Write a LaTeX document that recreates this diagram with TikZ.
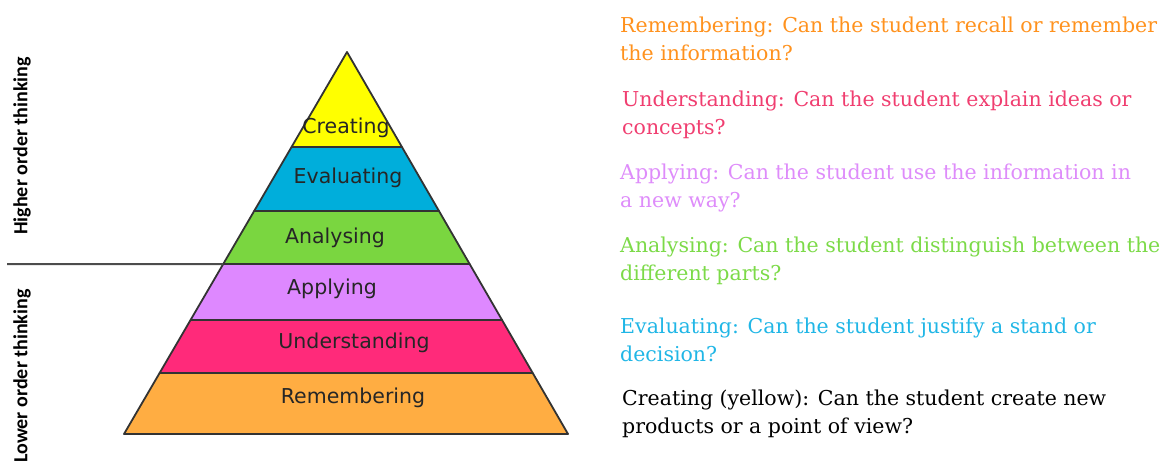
\documentclass[tikz,border=0pt]{standalone}
\usepackage{fontspec}
\usetikzlibrary{calc}
\setmainfont{DejaVu Serif}
\newfontfamily\levelfont{DejaVu Sans}
\newfontfamily\sidefont{Carlito}

\definecolor{remcol}{RGB}{255,173,66}
\definecolor{undcol}{RGB}{255,42,122}
\definecolor{appcol}{RGB}{222,136,255}
\definecolor{anacol}{RGB}{122,214,64}
\definecolor{evacol}{RGB}{0,174,219}
\definecolor{crecol}{RGB}{255,255,0}
\definecolor{remtxt}{RGB}{255,146,30}
\definecolor{undtxt}{RGB}{240,62,112}
\definecolor{apptxt}{RGB}{222,140,250}
\definecolor{anatxt}{RGB}{124,218,72}
\definecolor{evatxt}{RGB}{32,182,230}

\begin{document}
\begin{tikzpicture}[x=1pt,y=-1pt,
    band/.style={draw=black!80, line width=1.8pt, line join=round},
    level/.style={font=\levelfont\fontsize{20.5}{20.5}\selectfont, text=black!85, inner sep=0pt},
    side/.style={font=\sidefont\bfseries\fontsize{20}{20}\selectfont, rotate=90, inner sep=0pt},
    question/.style={anchor=west, align=left, inner sep=0pt, font=\fontsize{20.5}{28.5}\selectfont}]
    \useasboundingbox (0,0) rectangle (1176,464);

    % pyramid corners
    \coordinate (top) at (347,52);
    \coordinate (bl) at (124,434);
    \coordinate (br) at (568,434);

    % bands, bottom to top
    \foreach \ta/\tb/\col in {0.8403/1/remcol, 0.7016/0.8403/undcol, 0.555/0.7016/appcol,
                               0.4162/0.555/anacol, 0.2487/0.4162/evacol}
        \filldraw[band, fill=\col] ($(top)!\ta!(bl)$) -- ($(top)!\tb!(bl)$)
            -- ($(top)!\tb!(br)$) -- ($(top)!\ta!(br)$) -- cycle;
    \filldraw[band, fill=crecol] (top) -- ($(top)!0.2487!(bl)$) -- ($(top)!0.2487!(br)$) -- cycle;

    % level names
    \node[level] (cre) at (346,128) {Creating};
    \node[level] (eva) at (348,178) {Evaluating};
    \node[level] (ana) at (335,238) {Analysing};
    \node[level] (app) at (332,289) {Applying};
    \node[level] (und) at (354,343) {Understanding};
    \node[level] (rem) at (353,398) {Remembering};

    % split between higher and lower order
    \coordinate (split) at (7,264);
    \coordinate (edge) at ($(top)!0.555!(bl)$);
    \draw[black!70, line width=2pt] (split) -- (edge);
    \node[side] (high) at (22,146) {Higher order thinking};
    \node[side] (low) at (22,376) {Lower order thinking};

    % questions
    \node[question, text=remtxt] (qrem) at (620,39) {Remembering: Can the student recall or remember\\the information?};
    \node[question, text=undtxt] (qund) at (622,115) {Understanding: Can the student explain ideas or\\concepts?};
    \node[question, text=apptxt] (qapp) at (620,188) {Applying: Can the student use the information in\\a new way?};
    \node[question, text=anatxt] (qana) at (620,261) {Analysing: Can the student distinguish between the\\different parts?};
    \node[question, text=evatxt] (qeva) at (620,340) {Evaluating: Can the student justify a stand or\\decision?};
    \node[question, text=black] (qcre) at (622,414) {Creating (yellow): Can the student create new\\products or a point of view?};
\end{tikzpicture}
\end{document}
